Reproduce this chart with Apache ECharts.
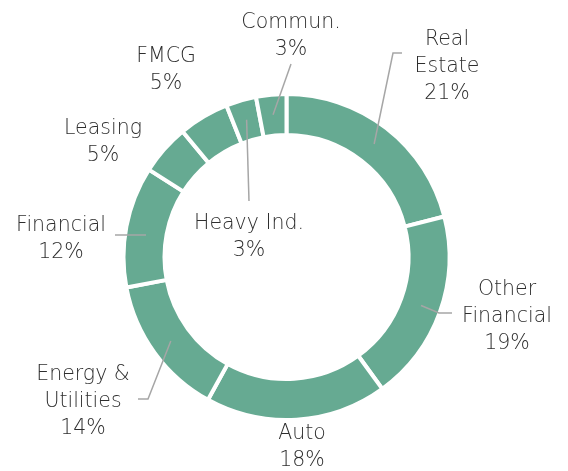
<!DOCTYPE html>
<html><head><meta charset="utf-8">
<script src="https://cdn.jsdelivr.net/npm/echarts@6/dist/echarts.min.js"></script>
<style>html,body{margin:0;padding:0;background:#fff}#c{width:568px;height:471px}</style>
</head><body><div id="c"></div>
<script>
// ---- data ----
const categories = ['Real Estate', 'Other Financial', 'Auto', 'Energy & Utilities', 'Financial', 'Leasing', 'FMCG', 'Heavy Ind.', 'Commun.'];
const labelTexts = ['Real\nEstate', 'Other\nFinancial', 'Auto', 'Energy &\nUtilities', 'Financial', 'Leasing', 'FMCG', 'Heavy Ind.', 'Commun.'];
const shares = [21, 19, 18, 14, 12, 5, 5, 3, 3];

// ---- layout (not data) ----
const CX = 286.5, CY = 257, R_OUT = 163, R_IN = 122, R_LINE = 143;
const labelSpots = [
  { x: 447, y: 67,  line: [[393, 53], [402, 53]] },   // Real Estate
  { x: 507, y: 317, line: [[439, 313], [452, 313]] }, // Other Financial
  { x: 302, y: 447, line: null },                     // Auto
  { x: 83,  y: 402, line: [[148, 399], [138, 399]] }, // Energy & Utilities
  { x: 61,  y: 239, line: [[115, 235]], startY: 235 },// Financial
  { x: 103, y: 142, line: null },                     // Leasing
  { x: 166, y: 70,  line: null },                     // FMCG
  { x: 249, y: 237, line: [[249, 201]] },             // Heavy Ind.
  { x: 291, y: 36,  line: [[291, 64]] }               // Commun.
];

const chart = echarts.init(document.getElementById('c'), null, { renderer: 'canvas' });
const ringData = categories.map((c, i) => ({ name: c, value: shares[i] }));
const labelData = categories.map((c, i) => ({
  name: c,
  value: shares[i],
  labelLine: { show: !!labelSpots[i].line }
}));

const common = {
  type: 'pie',
  center: [CX, CY],
  radius: [R_IN, R_OUT],
  startAngle: 90,
  clockwise: true,
  avoidLabelOverlap: false,
  silent: true
};

chart.setOption({
  animation: false,
  backgroundColor: '#ffffff',
  series: [
    Object.assign({}, common, {
      z: 2,
      itemStyle: { color: '#66aa92', borderColor: '#ffffff', borderWidth: 4 },
      label: { show: false },
      labelLine: { show: false },
      data: ringData
    }),
    Object.assign({}, common, {
      z: 5,
      itemStyle: { color: 'rgba(0,0,0,0)', borderWidth: 0 },
      label: {
        show: true,
        position: 'outside',
        formatter: p => labelTexts[p.dataIndex] + '\n' + p.value + '%',
        fontFamily: 'DejaVu Sans',
        fontWeight: 200,
        fontSize: 20.5,
        lineHeight: 27,
        color: '#2e2e2e',
        align: 'center'
      },
      labelLine: {
        show: true,
        length: 10,
        length2: 10,
        lineStyle: { color: '#a6a6a6', width: 1.5 }
      },
      labelLayout: function (params) {
        const s = labelSpots[params.dataIndex];
        const out = { x: s.x, y: s.y, align: 'center', verticalAlign: 'middle' };
        if (s.line && params.labelLinePoints) {
          const p = params.labelLinePoints[0];
          const dx = p[0] - CX, dy = p[1] - CY;
          const d = Math.hypot(dx, dy) || 1;
          const start = [CX + dx / d * R_LINE, CY + dy / d * R_LINE];
          if (s.startY != null) start[1] = s.startY;
          out.labelLinePoints = [start].concat(s.line);
        }
        return out;
      },
      data: labelData
    })
  ]
});
</script>
</body></html>
